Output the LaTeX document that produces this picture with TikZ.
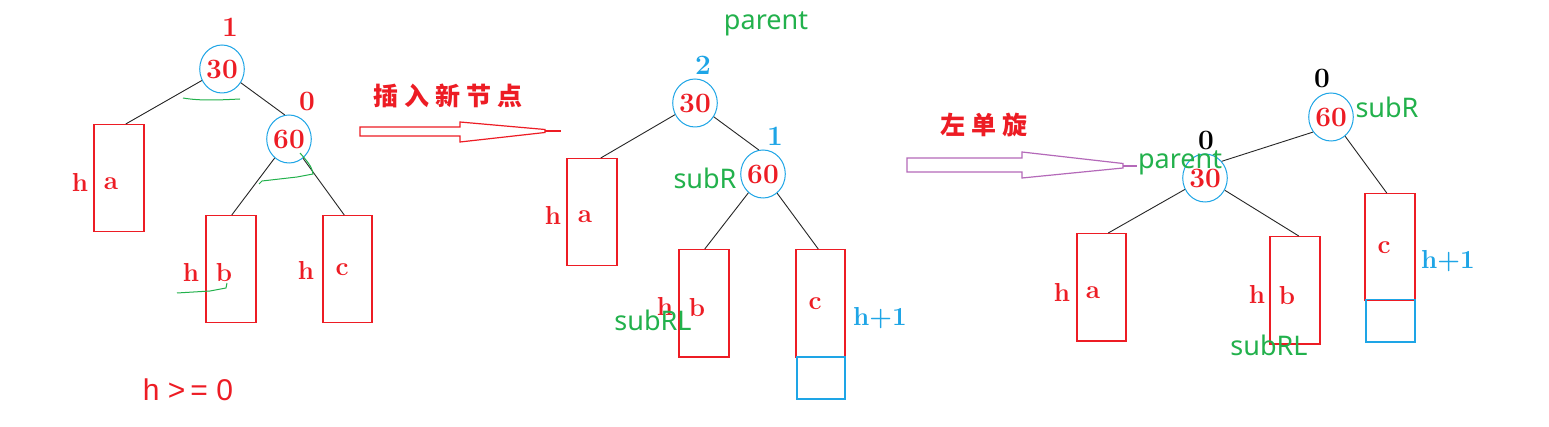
\documentclass[tikz,border=0pt]{standalone}
\usepackage{fontspec}
\usetikzlibrary{shapes.geometric,calc}
\newfontfamily\lblsans{Noto Sans}
\newfontfamily\arialf{Liberation Sans}
\newfontfamily\cjk{Noto Sans CJK SC}
\definecolor{cred}{RGB}{237,28,36}
\definecolor{ccyan}{RGB}{30,165,230}
\definecolor{cgreen}{RGB}{34,177,76}
\definecolor{cpurple}{RGB}{180,105,185}
\tikzset{
  circ/.style={ellipse, draw=ccyan, line width=1pt, minimum width=44pt, minimum height=48pt, inner sep=0pt, text=cred, font=\bfseries\fontsize{28}{28}\selectfont},
  bx/.style={draw=cred, line width=1.5pt, minimum width=50pt, minimum height=107pt, inner sep=0pt, anchor=north west},
  cbx/.style={draw=ccyan, line width=1.5pt, minimum width=49pt, minimum height=42pt, inner sep=0pt, anchor=north west},
  lbl/.style={text=cred, font=\bfseries\fontsize{26}{26}\selectfont, inner sep=0pt},
  nlbl/.style={text=cred, font=\bfseries\fontsize{28}{28}\selectfont, inner sep=0pt},
  blbl/.style={text=ccyan, font=\bfseries\fontsize{28}{28}\selectfont, inner sep=0pt},
  klbl/.style={text=black, font=\bfseries\fontsize{28}{28}\selectfont, inner sep=0pt},
  glbl/.style={text=cgreen, font=\lblsans\fontsize{27}{27}\selectfont, inner sep=0pt},
  tit/.style={text=cred, font=\cjk\bfseries\fontsize{25}{25}\selectfont, inner sep=0pt},
  con/.style={draw=black!85, line width=0.9pt},
  gmark/.style={draw=cgreen, line width=1pt},
}
\begin{document}
\begin{tikzpicture}[x=1pt,y=-1pt]
\useasboundingbox (0,0) rectangle (1549,427);
\fill[white] (0,0) rectangle (1549,427);

% ---------- tree 1 ----------
\node[circ] (a30) at (222,69) {30};
\node[circ] (a60) at (289,139) {60};
\node[nlbl] (a1) at (230,27) {1};
\node[nlbl] (a0) at (307,101) {0};
\node[bx] (aa) at (93,124) {};
\node[bx] (ab) at (205,215) {};
\node[bx, minimum width=49pt] (ac) at (322,215) {};
\node[lbl] (aah) at (80,182) {h};
\node[lbl] (aaa) at (111,184) {a};
\node[lbl] (abh) at (191,272) {h};
\node[lbl] (abb) at (224,273) {b};
\node[lbl] (ach) at (306,270) {h};
\node[lbl] (acc) at (342,270) {c};
\draw[con] (a30) -- ($(aa.north)+(7,0)$);
\draw[con] (a30) -- (a60.100);
\draw[con] (a60) -- ($(ab.north)+(1,0)$);
\draw[con] (a60) -- ($(ac.north)+(-3,0)$);
\draw[gmark] (183,98) .. controls (200,101) and (220,100) .. (240,99);
\draw[gmark] (300,153) .. controls (306,160) and (312,166) .. (313,174) -- (297,177) -- (262,181) -- (259,184);
\draw[gmark] (177,293) -- (210,291) -- (226,288) -- (227,283);
\node[text=cred, font=\arialf\fontsize{30}{30}\selectfont, inner sep=0pt] (hge) at (188,390) {h >\,= 0};

% ---------- arrow 1 ----------
\node[tit] (t1) at (448,96) {插\hspace{6pt}入\hspace{6pt}新\hspace{6pt}节\hspace{6pt}点};
\draw[cred, line width=1.2pt, fill=white] (360,127) -- (460,127) -- (460,122) -- (545,129.5) -- (545,132.5) -- (460,142) -- (460,136) -- (360,136) -- cycle;
\draw[cred, line width=2pt] (545,131) -- (561,131);

% ---------- tree 2 ----------
\node[glbl] (bpar) at (766,24) {parent};
\node[circ] (b30) at (695,103) {30};
\node[circ] (b60) at (763,174) {60};
\node[blbl] (b2) at (703,65) {2};
\node[blbl] (b1) at (775,136) {1};
\node[glbl] (bsr) at (705,178) {subR};
\node[bx] (ba) at (566,158) {};
\node[bx] (bb) at (678,249) {};
\node[bx, minimum width=49pt] (bc) at (795,249) {};
\node[cbx, minimum width=48pt] (bcx) at (796,356) {};
\node[lbl] (bah) at (553,215) {h};
\node[lbl] (baa) at (585,217) {a};
\node[lbl] (bbh) at (665,306) {h};
\node[lbl] (bbb) at (697,308) {b};
\node[lbl] (bcc) at (815,304) {c};
\node[glbl] (bsrl) at (653,320) {subRL};
\node[blbl, font=\bfseries\fontsize{26}{26}\selectfont] (bh1) at (880,318) {h+1};
\draw[con] (b30) -- ($(ba.north)+(9,0)$);
\draw[con] (b30) -- (b60.100);
\draw[con] (b60) -- ($(bb.north)+(1,0)$);
\draw[con] (b60) -- ($(bc.north)+(-2,0)$);

% ---------- arrow 2 ----------
\node[tit] (t2) at (984,125) {左\hspace{6pt}单\hspace{6pt}旋};
\draw[cpurple, line width=1.2pt, fill=white] (907,158) -- (1022,158) -- (1022,152) -- (1123,163.5) -- (1123,168) -- (1022,178) -- (1022,172) -- (907,172) -- cycle;
\draw[cpurple, line width=2pt] (1123,166) -- (1137,166);

% ---------- tree 3 ----------
\node[circ] (c30) at (1205,178) {30};
\node[circ] (c60) at (1331,117) {60};
\node[klbl] (c0a) at (1206,140) {0};
\node[klbl] (c0b) at (1322,78) {0};
\node[glbl] (cpar) at (1180,163) {parent};
\node[glbl] (csr) at (1387,107) {subR};
\node[bx, minimum width=49pt] (ca) at (1076,233) {};
\node[bx] (cb) at (1269,236) {};
\node[bx] (cc) at (1364,193) {};
\node[cbx] (ccx) at (1365,299) {};
\node[lbl] (cah) at (1062,292) {h};
\node[lbl] (caa) at (1093,293) {a};
\node[lbl] (cbh) at (1257,294) {h};
\node[lbl] (cbb) at (1287,296) {b};
\node[lbl] (ccc) at (1384,248) {c};
\node[glbl] (csrl) at (1269,345) {subRL};
\node[blbl, font=\bfseries\fontsize{26}{26}\selectfont] (ch1) at (1448,261) {h+1};
\draw[con] (c60.220) -- (c30.45);
\draw[con] (c30) -- ($(ca.north)+(7,0)$);
\draw[con] (c30) -- ($(cb.north)+(4,0)$);
\draw[con] (c60) -- ($(cc.north)+(-3,0)$);
\end{tikzpicture}
\end{document}
